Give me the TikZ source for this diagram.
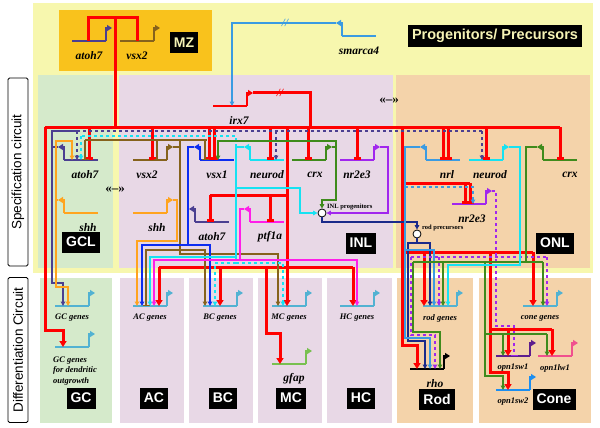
\documentclass[tikz,border=0pt]{standalone}
\usepackage{fontspec}
\setmainfont{Liberation Serif}
\setsansfont{Liberation Sans}
\usetikzlibrary{arrows.meta}

\definecolor{bgyel}{HTML}{F7F7AE}
\definecolor{mzorg}{HTML}{F9C21C}
\definecolor{gclgrn}{HTML}{D5EACB}
\definecolor{inlpur}{HTML}{E8D8E6}
\definecolor{onlorg}{HTML}{F4D3AA}
\definecolor{cAtoh}{HTML}{4B3F91}
\definecolor{cVsxII}{HTML}{86621C}
\definecolor{cVsxI}{HTML}{0C2CF0}
\definecolor{cNeurod}{HTML}{16E2F2}
\definecolor{cCrx}{HTML}{3F8B1C}
\definecolor{cNrII}{HTML}{A126EE}
\definecolor{cShh}{HTML}{FFA41F}
\definecolor{cPtf}{HTML}{FF1EE8}
\definecolor{cNrl}{HTML}{3A9BE2}
\definecolor{cIrx}{HTML}{FF0000}
\definecolor{cProg}{HTML}{1A2A8A}
\definecolor{cDiff}{HTML}{52B2D2}
\definecolor{cGfap}{HTML}{78C050}
\definecolor{cSwI}{HTML}{5E1E8E}
\definecolor{cLwI}{HTML}{F0508E}
\definecolor{cSwII}{HTML}{1C8EF0}
\definecolor{plabel}{HTML}{F5F3B5}

% gene with promoter on the right / on the left
\newcommand{\gener}[5][glab]{%
  \coordinate (#2) at (#3);
  \draw[gline,#4] (#2) -- ++(34,0);
  \draw[pline,#4] (#2) ++(34,0) -- ++(0,-13) -- ++(6,0) coordinate (#2-out);
  \path (#2) ++(17,0) node[#1] (#2-lab) {#5};}
\newcommand{\genel}[5][glab]{%
  \coordinate (#2) at (#3);
  \draw[gline,#4] (#2) -- ++(34,0);
  \draw[pline,#4] (#2) -- ++(0,-13) -- ++(-6,0) coordinate (#2-out);
  \path (#2) ++(17,0) node[#1] (#2-lab) {#5};}

\begin{document}
\begin{tikzpicture}[x=1pt,y=-1pt,
  gline/.style={line width=2.3pt},
  pline/.style={line width=1.7pt,-{Triangle[length=5pt,width=6pt]}},
  glab/.style={font=\bfseries\itshape\fontsize{11.5}{12}\selectfont,yshift=-15pt},
  dlab/.style={font=\bfseries\itshape\fontsize{8.5}{10.5}\selectfont,yshift=-12pt},
  plab/.style={font=\bfseries\fontsize{6.5}{7}\selectfont,inner sep=0pt},
  reg/.style={fill=black,text=white,font=\sffamily\bfseries\fontsize{14}{14}\selectfont,inner xsep=4pt,minimum height=21pt},
  side/.style={draw,line width=0.8pt,rounded corners=1.5pt,fill=white,minimum height=20pt,inner sep=0pt,font=\sffamily\fontsize{13.5}{14}\selectfont},
  prog/.style={circle,draw,fill=white,line width=0.8pt,minimum size=8pt,inner sep=0pt},
  brk/.style={font=\bfseries\itshape\fontsize{11}{11}\selectfont,inner sep=0pt},
  dbl/.style={font=\bfseries\fontsize{13}{13}\selectfont,inner sep=0pt},
  link/.style={line width=1.3pt},
  irx/.style={line width=3pt,cIrx},
  act/.style={-{Triangle[length=4.5pt,width=4.5pt]}},
  ract/.style={-{Triangle[length=6pt,width=7pt]}},
  rep/.style={-{Bar[width=7pt]}}]
\useasboundingbox (0,0) rectangle (600,428);

% regions
\fill[bgyel] (33,3) rectangle (593,273);
\fill[mzorg] (59,10) rectangle (212,71);
\fill[gclgrn] (38,75) rectangle (113,268);
\fill[inlpur] (119,75) rectangle (393,268);
\fill[onlorg] (396,75) rectangle (590,268);
\fill[gclgrn] (40,278) rectangle (112,423);
\foreach \a/\b in {120/184,189/253,258/322,327/392}
  \fill[inlpur] (\a,278) rectangle (\b,423);
\fill[onlorg] (397,278) rectangle (473,423);
\fill[onlorg] (479,278) rectangle (591,423);

\node[side,minimum width=188pt,rotate=90] (spec) at (18,172) {Specification circuit};
\node[side,minimum width=145pt,rotate=90] (diff) at (18,350) {Differentiation Circuit};

\node[reg,text=plabel] (mz) at (184,43) {MZ};
\node[reg,text=plabel,font=\sffamily\bfseries\fontsize{14.5}{14.5}\selectfont,minimum height=22pt] (pp) at (495,36) {Progenitors/ Precursors};
\node[reg] (gcl) at (81,242) {GCL};
\node[reg] (inl) at (361,243) {INL};
\node[reg] (onl) at (555,243) {ONL};
\node[reg] (gc) at (81,398) {GC};
\node[reg] (ac) at (154,398) {AC};
\node[reg] (bc) at (223,398) {BC};
\node[reg] (mc) at (291,398) {MC};
\node[reg] (hc) at (361,398) {HC};
\node[reg] (rod) at (437,399) {Rod};
\node[reg] (cone) at (554,399) {Cone};

\node[dbl] (gi) at (115,190) {«–»};
\node[dbl] (io) at (389,101) {«–»};

% genes
\gener{mzAtoh}{72,41}{cAtoh}{atoh7}
\gener{mzVsx}{120,41}{cVsxII}{vsx2}
\genel{smarca}{342,36}{cNrl}{smarca4}
\gener[glab,xshift=9pt]{irx}{213,106}{cIrx}{irx7}
\genel[glab,xshift=4pt]{gAtoh}{64,160}{cAtoh}{atoh7}
\genel[glab,xshift=7pt]{gShh}{64,213}{cShh}{shh}
\gener[glab,xshift=-3pt]{iVsxII}{133,160}{cVsxII}{vsx2}
\genel{iVsxI}{200,160}{cVsxI}{vsx1}
\genel{iNeurod}{250,160}{cNeurod}{neurod}
\gener[glab,xshift=6pt]{iCrx}{292,160}{cCrx}{crx}
\gener{iNrII}{340,160}{cNrII}{nr2e3}
\gener[glab,xshift=7pt]{iShh}{133,213}{cShh}{shh}
\genel{iAtoh}{195,222}{cAtoh}{atoh7}
\genel[glab,xshift=3pt]{iPtf}{250,222}{cPtf}{ptf1a}
\genel[glab,xshift=4pt]{oNrl}{426,160}{cNrl}{nrl}
\gener[glab,xshift=4pt]{oNeurod}{469,160}{cNeurod}{neurod}
\genel[glab,xshift=10pt]{oCrx}{543,160}{cCrx}{crx}
\gener[glab,xshift=3pt]{oNrII}{452,204}{cNrII}{nr2e3}

\gener[dlab]{dGC}{55,306}{cDiff}{GC genes}
\gener[dlab,align=left,anchor=north,xshift=3pt,yshift=6pt]{dGCd}{55,347}{cDiff}{GC genes\\for dendritic\\outgrowth}
\gener[dlab]{dAC}{133,306}{cDiff}{AC genes}
\gener[dlab]{dBC}{203,306}{cDiff}{BC genes}
\gener[dlab]{dMC}{272,306}{cDiff}{MC genes}
\gener[dlab]{dHC}{340,306}{cDiff}{HC genes}
\gener[glab,xshift=5pt]{dGfap}{272,364}{cGfap}{gfap}
\gener[dlab]{dRod}{423,306}{cDiff}{rod genes}
\gener[glab,xshift=8pt]{dRho}{410,369}{black}{rho}
\gener[dlab]{dCone}{523,306}{cDiff}{cone genes}
\gener[dlab]{dSwI}{496,356}{cSwI}{opn1sw1}
\gener[dlab]{dLwI}{538,356}{cLwI}{opn1lw1}
\gener[dlab]{dSwII}{496,390}{cSwII}{opn1sw2}

\node[prog] (inlp) at (322,213) {};
\node[plab,anchor=west] (inlp-lab) at (327,207) {INL progenitors};
\node[prog] (rodp) at (417,234) {};
\node[plab,anchor=west] (rodp-lab) at (422,228) {rod precursors};

% smarca4 -> irx7
\draw[link,cNrl,act] (smarca-out) -| (232,0 |- irx);
\node[brk,text=cNrl] at (285,23) {//};

% irx7 (red)
\coordinate (rbusL) at (45,127);
\coordinate (rbusR) at (560,127);
\draw[irx] (irx-out) -| (310,0 |- rbusL);
\node[brk,text=cIrx] at (280,93) {//};
\draw[irx] (rbusL) -- (rbusR);
\draw[irx] (115,0 |- rbusL) |- (88,18) -- (88,0 |- mzAtoh);
\draw[irx] (115,18) -| (137,0 |- mzVsx);
\foreach \x/\g in {89/gAtoh,152/iVsxII,209/iVsxI,214/iVsxI,270/iNeurod,308/iCrx,357/iNrII,443/oNrl,448/oNrl,486/oNeurod,560/oCrx}
  \draw[irx,rep] (\x,0 |- rbusL) -- (\x,0 |- \g);
\draw[irx,ract] (rbusL) -- (45,330) -| (63,0 |- dGCd);
\draw[irx,ract] (287,0 |- rbusL) -- (287,0 |- dMC);
\draw[irx] (210,195) -- (287,195);
\draw[irx,rep] (210,195) -- (210,0 |- iAtoh);
\draw[irx,rep] (270,195) -- (270,0 |- iPtf);
\draw[irx] (159,267) -- (353,267);
\foreach \x/\g in {159/dAC,220/dBC,353/dHC}
  \draw[irx,ract] (\x,267) -- (\x,0 |- \g);
\draw[irx,ract] (266,267) -- (266,333) -| (280,0 |- dGfap);
\draw[irx,ract] (402,0 |- rbusL) -- (402,345) -| (417,0 |- dRho);
\draw[irx] (402,183) -- (470,183);
\draw[irx,rep] (465,183) -- (465,0 |- oNrII);
\draw[irx,rep] (470,183) -- (470,0 |- oNrII);
\draw[irx] (402,252) -- (533,252);
\draw[irx,ract] (424,252) -- (424,0 |- dRod);
\draw[irx,ract] (533,252) -- (533,0 |- dCone);
\draw[irx] (490,252) -- (490,329) -- (552,329);
\draw[irx,ract] (508,329) -- (508,0 |- dSwI);
\draw[irx,ract] (552,329) -- (552,0 |- dLwI);
\draw[irx,ract] (490,329) -- (490,372) -| (508,0 |- dSwII);

% atoh7
\draw[link,cAtoh] (gAtoh-out) -| (52,131) -- (77,131);
\draw[link,cAtoh,act] (52,147) |- (63,283) -- (63,0 |- dGC);
\draw[link,cAtoh,dashed] (77,131) -- (482,131);
\foreach \x/\g in {77/gAtoh,276/iNeurod,482/oNeurod}
  \draw[link,cAtoh,dashed,act] (\x,131) -- (\x,0 |- \g);

% shh
\draw[link,cShh,act] (gShh-out) -| (56,141) -| (72,0 |- gAtoh);
\draw[link,cShh,act] (56,200) |- (68,287) -- (68,0 |- dGC);
\draw[link,cShh,act] (iShh-out) -| (177,241) -| (137,0 |- dAC);

% vsx2
\draw[link,cVsxII] (iVsxII-out) -- (180,0 |- iVsxII-out);
\draw[link,cVsxII] (85,140) -- (207,140);
\foreach \x/\g in {85/gAtoh,157/iVsxII,205/iVsxI}
  \draw[link,cVsxII,rep] (\x,140) -- (\x,0 |- \g);
\draw[link,cVsxII,act] (180,140) |- (278,254) -- (278,0 |- dMC);
\draw[link,cVsxII,act] (180,250) -| (205,0 |- dBC);
\draw[link,cVsxII,rep] (180,250) -| (146,0 |- dAC);

% vsx1
\draw[link,cVsxI] (iVsxI-out) -| (188,245);
\draw[link,cVsxI,act] (188,245) -| (142,0 |- dAC);
\draw[link,cVsxI,act] (188,245) -| (210,0 |- dBC);

% neurod (INL)
\draw[link,cNeurod] (iNeurod-out) -| (236,257);
\draw[link,cNeurod,act] (236,188) -| (300,213) -- (inlp);
\draw[link,cNeurod,act] (236,257) -| (150,0 |- dAC);
\draw[link,cNeurod,dashed] (236,147) |- (81,136);
\draw[link,cNeurod,dashed,act] (81,136) -- (81,0 |- gAtoh);
\draw[link,cNeurod,dashed] (236,257) -- (236,263);
\draw[link,cNeurod,dashed,act] (236,263) -| (215,0 |- dBC);
\draw[link,cNeurod,dashed,act] (236,263) -| (283,0 |- dMC);

% ptf1a
\draw[link,cPtf] (iPtf-out) -| (240,260);
\draw[link,cPtf,act] (240,260) -| (154,0 |- dAC);
\draw[link,cPtf,act] (240,260) -| (357,0 |- dHC);

% crx, nr2e3 (INL)
\draw[link,cCrx,act] (iCrx-out) -| (336,200) -- (322,200) -- (inlp);
\draw[link,cCrx,act] (336,147) |- (218,141) -- (218,0 |- iVsxI);
\draw[link,cNrII,act] (iNrII-out) -| (388,213) -- (inlp);

% progenitors
\draw[link,cProg,act] (inlp) -- (322,222) -| (rodp);
\draw[link,cProg,act] (rodp) -- (417,243) -| (430,0 |- dRod);
\draw[link,cProg,act] (417,243) -| (408,341) -| (425,0 |- dRho);

% nrl
\draw[link,cNrl,act] (oNrl-out) -| (405,338) -| (430,0 |- dRho);
\draw[link,cNrl,act] (405,250) -| (434,0 |- dRod);
\draw[link,cNrl,dashed,act] (405,187) -| (473,0 |- oNrII);

% nr2e3 (ONL)
\draw[link,cNrII,dashed,rep] (oNrII-out) -| (496,326) -| (514,0 |- dSwI);
\draw[link,cNrII,dashed] (411,257) -- (547,257);
\draw[link,cNrII,dashed,act] (439,257) -- (439,0 |- dRod);
\draw[link,cNrII,dashed,act] (547,257) -- (547,0 |- dCone);
\draw[link,cNrII,dashed,act] (411,257) |- (435,335) -- (435,0 |- dRho);

% crx (ONL)
\draw[link,cCrx] (oCrx-out) -| (526,262);
\draw[link,cCrx] (413,262) -- (543,262);
\draw[link,cCrx,act] (443,262) -- (443,0 |- dRod);
\draw[link,cCrx,act] (543,262) -- (543,0 |- dCone);
\draw[link,cCrx,act] (413,262) |- (440,332) -- (440,0 |- dRho);
\draw[link,cCrx,act] (485,262) |- (503,376) -- (503,0 |- dSwII);
\draw[link,cCrx] (485,334) -- (547,334);
\draw[link,cCrx,act] (503,334) -- (503,0 |- dSwI);
\draw[link,cCrx,act] (547,334) -- (547,0 |- dLwI);

% neurod (ONL)
\draw[link,cNeurod,act] (oNeurod-out) -| (520,265) -| (448,0 |- dRod);
\end{tikzpicture}
\end{document}
